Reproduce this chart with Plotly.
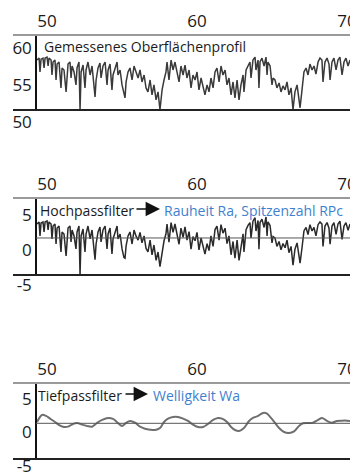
import plotly.graph_objects as go

# ---- data ----
x_profile = [49.33, 49.47, 49.53, 49.6, 49.73, 49.8, 49.87, 50.0, 50.07, 50.13, 50.27, 50.33, 50.4, 50.53, 50.6,
             50.67, 50.8, 50.93, 51.0, 51.13, 51.27, 51.33, 51.4, 51.53, 51.6, 51.67, 51.8, 51.93, 52.0, 52.13,
             52.2, 52.27, 52.4, 52.53, 52.6, 52.73, 52.87, 53.0, 53.13, 53.2, 53.27, 53.4, 53.53, 53.6, 53.73,
             53.87, 54.0, 54.07, 54.2, 54.33, 54.4, 54.53, 54.67, 54.73, 54.87, 55.0, 55.13, 55.2, 55.27, 55.4,
             55.53, 55.67, 55.8, 55.93, 56.07, 56.2, 56.33, 56.47, 56.6, 56.73, 56.87, 57.0, 57.13, 57.27, 57.4,
             57.53, 57.67, 57.8, 57.93, 58.0, 58.13, 58.27, 58.4, 58.53, 58.67, 58.8, 58.93, 59.07, 59.2, 59.33,
             59.47, 59.6, 59.73, 59.87, 60.0, 60.13, 60.27, 60.4, 60.53, 60.67, 60.8, 60.93, 61.07, 61.2, 61.33,
             61.47, 61.6, 61.73, 61.87, 62.0, 62.13, 62.27, 62.4, 62.53, 62.67, 62.8, 62.93, 63.07, 63.13, 63.27,
             63.4, 63.53, 63.6, 63.73, 63.87, 63.93, 64.07, 64.13, 64.2, 64.33, 64.47, 64.6, 64.67, 64.73, 64.87,
             65.0, 65.07, 65.2, 65.33, 65.47, 65.6, 65.73, 65.87, 66.0, 66.13, 66.27, 66.4, 66.53, 66.67, 66.8,
             66.87, 67.0, 67.13, 67.27, 67.4, 67.53, 67.67, 67.8, 67.93, 68.07, 68.2, 68.33, 68.4, 68.53, 68.67,
             68.8, 68.87, 69.0, 69.13, 69.27, 69.4, 69.53, 69.67, 69.8, 69.93, 70.07, 70.2]

measured = [56.76, 57.03, 55.14, 56.89, 57.03, 55.68, 57.03, 57.16, 55.95, 57.03, 56.76, 54.73, 56.49, 56.76, 54.05,
            56.22, 56.49, 52.97, 55.68, 55.41, 52.43, 54.05, 56.22, 56.49, 54.32, 55.95, 55.14, 53.38, 55.68, 56.49,
            50.0, 55.14, 56.08, 52.97, 55.41, 56.49, 54.73, 55.95, 52.70, 51.76, 54.05, 55.68, 56.35, 54.32, 55.95,
            56.49, 53.38, 55.41, 56.22, 52.70, 54.73, 55.68, 56.49, 54.73, 55.41, 53.38, 52.03, 51.62, 53.78, 55.14,
            55.68, 54.05, 55.95, 55.14, 54.32, 55.41, 53.78, 54.73, 52.97, 52.43, 54.05, 52.03, 53.38, 51.35, 52.43,
            50.0, 52.70, 54.05, 55.14, 56.49, 54.05, 56.76, 55.41, 56.49, 55.14, 53.78, 55.95, 54.73, 56.08, 54.32,
            55.41, 52.97, 54.73, 54.05, 55.14, 52.70, 54.32, 52.97, 52.03, 53.38, 52.43, 54.32, 52.97, 55.14, 55.68,
            53.78, 55.95, 54.73, 55.41, 53.38, 54.32, 52.03, 53.78, 51.62, 54.05, 51.35, 53.38, 54.73, 52.43, 55.41,
            56.08, 56.49, 54.32, 56.76, 57.16, 55.41, 56.76, 52.97, 56.49, 57.03, 55.95, 57.16, 54.73, 56.49, 55.95,
            53.38, 54.32, 54.05, 52.97, 53.65, 52.43, 53.24, 52.70, 53.78, 52.03, 52.97, 50.0, 52.43, 53.38, 51.35,
            50.27, 52.70, 55.14, 55.68, 54.73, 56.22, 55.41, 55.95, 54.86, 56.49, 57.03, 56.76, 53.78, 56.49, 57.03,
            56.22, 54.05, 56.49, 57.03, 55.41, 56.76, 57.16, 54.73, 56.49, 57.03, 55.95, 56.76]

highpass = [2.0, 2.29, 0.29, 2.14, 2.29, 0.86, 2.29, 2.43, 1.14, 2.29, 2.0, -0.14, 1.71, 2.0, -0.86,
            1.43, 1.71, -2.0, 0.86, 0.57, -2.57, -0.86, 1.43, 1.71, -0.57, 1.14, 0.29, -1.57, 0.86, 1.71,
            -5.3, 0.29, 1.29, -2.0, 0.57, 1.71, -0.14, 1.14, -2.29, -3.1, -0.86, 0.86, 1.57, -0.57, 1.14,
            1.71, -1.57, 0.57, 1.43, -2.29, -0.14, 0.86, 1.71, -0.14, 0.57, -1.57, -2.8, -2.9, -1.14, 0.29,
            0.86, -0.86, 1.14, 0.29, -0.3, 0.8, -0.7, 0.3, -1.5, -2.0, -0.3, -2.4, -1.0, -3.2, -2.0,
            -4.1, -1.8, -0.4, 0.6, 2.0, -0.6, 2.2, 0.8, 2.0, 0.5, -0.9, 1.4, 0.1, 1.6, -0.3,
            0.9, -1.6, 0.2, -0.4, 0.8, -1.7, 0.0, -1.3, -2.3, -0.8, -1.8, 0.3, -1.2, 1.2, 1.7,
            -0.3, 1.9, 0.7, 1.4, -0.8, 0.3, -2.4, -0.5, -2.9, -0.3, -3.2, -1.0, 0.6, -2.0, 1.2,
            1.8, 2.2, 0.0, 2.4, 2.9, 1.0, 2.5, -1.6, 2.2, 2.7, 1.5, 3.0, 0.3, 2.3, 1.8,
            -0.7, 0.2, 0.0, -1.2, -0.5, -1.7, -0.8, -1.4, -0.3, -2.1, -1.2, -3.9, -1.6, -0.7, -2.8,
            -3.6, -1.4, 1.0, 1.5, 0.5, 1.9, 1.0, 1.5, 0.3, 1.9, 2.3, 2.0, -1.2, 1.7, 2.2,
            1.4, -0.9, 1.7, 2.2, 0.5, 2.0, 2.4, -0.2, 1.7, 2.2, 1.1, 2.0]

x_wave = [49.33, 49.67, 49.93, 50.2, 50.53, 50.87, 51.13, 51.4, 51.73, 52.0, 52.33, 52.67, 53.0, 53.33, 53.67,
          54.07, 54.4, 54.73, 55.0, 55.27, 55.53, 55.87, 56.2, 56.53, 56.87, 57.2, 57.53, 57.8, 58.07, 58.4,
          58.73, 59.07, 59.4, 59.73, 60.07, 60.4, 60.73, 61.07, 61.4, 61.67, 62.0, 62.27, 62.53, 62.8, 63.13,
          63.47, 63.73, 64.07, 64.4, 64.67, 64.93, 65.2, 65.47, 65.8, 66.13, 66.47, 66.8, 67.07, 67.4, 67.73,
          68.07, 68.33, 68.67, 69.0, 69.33, 69.67, 70.0, 70.2]
lowpass = [0.2, 1.25, 1.1, 0.7, 0.2, -0.35, -0.55, -0.5, -0.1, 0.05, -0.2, -0.4, -0.5, 0.05, 0.5,
           0.8, 0.65, 0.05, -0.4, 0.05, 0.35, 0.1, -0.5, -0.8, -0.95, -1.0, -0.7, 0.2, 0.7, 0.95,
           0.95, 0.7, 0.35, -0.2, -0.55, -0.55, -0.1, 0.5, 0.8, 0.7, 0.2, -0.55, -1.0, -1.15, -0.7,
           0.35, 0.8, 1.1, 1.55, 1.45, 0.8, 0.05, -0.7, -1.3, -1.45, -1.2, -0.4, 0.0, 0.05, 0.1,
           0.5, 0.8, 0.35, 0.1, 0.35, 0.4, 0.4, 0.35]

x_ticks = [50, 60, 70]
y1_ticks = [50, 55, 60]
y23_ticks = [-5, 0, 5]
y23_labels = ["-5", "0", "5"]

title1 = "Gemessenes Oberflächenprofil"
filter2, result2 = "Hochpassfilter", "Rauheit Ra, Spitzenzahl RPc"
filter3, result3 = "Tiefpassfilter", "Welligkeit Wa"

# ---- figure ----
FONT = "Open Sans, Noto Sans, sans-serif"
BLUE = "#3f7fcf"
W, H, L = 350, 476, 13
axpos = (36 - L) / (W - L)

def dom(top, bottom):
    return [1 - bottom / H, 1 - top / H]

fig = go.Figure()
fig.add_trace(go.Scatter(x=x_profile, y=measured, mode="lines", xaxis="x", yaxis="y",
                         line=dict(color="#3a3a3a", width=1.5), hoverinfo="skip"))
fig.add_trace(go.Scatter(x=x_profile, y=highpass, mode="lines", xaxis="x2", yaxis="y2",
                         line=dict(color="#2a2a2a", width=1.5), hoverinfo="skip"))
fig.add_trace(go.Scatter(x=x_wave, y=lowpass, mode="lines", xaxis="x3", yaxis="y3",
                         line=dict(color="#6f6f6f", width=2, shape="spline"), hoverinfo="skip"))

xcommon = dict(domain=[0, 1], side="top", range=[47.73, 70.2], tickvals=x_ticks,
               showline=True, linecolor="#9a9a9a", linewidth=1.5, showgrid=False, zeroline=False,
               ticks="", ticklabeloverflow="allow", automargin=False,
               tickfont=dict(family=FONT, size=17, color="#1a1a1a"))
ycommon = dict(anchor="free", position=axpos, showline=True, linecolor="#111111", linewidth=1.5,
               showgrid=False, zeroline=False, ticks="", automargin=False,
               ticklabeloverflow="allow",
               tickfont=dict(family=FONT, size=17, color="#1a1a1a"))

fig.update_layout(
    width=W, height=H, margin=dict(l=L, r=0, t=0, b=0, autoexpand=False),
    paper_bgcolor="white", plot_bgcolor="white", showlegend=False,
    xaxis=dict(anchor="y", **xcommon),
    xaxis2=dict(anchor="y2", **xcommon),
    xaxis3=dict(anchor="y3", **xcommon),
    yaxis=dict(domain=dom(36, 110), range=[49.97, 60.03], tickvals=y1_ticks, ticklabelshift=12, **ycommon),
    yaxis2=dict(domain=dom(199, 275), range=[-5.29, 5.57], tickvals=y23_ticks, ticktext=y23_labels,
                ticklabelshift=12, **ycommon),
    yaxis3=dict(domain=dom(384, 459), range=[-5.33, 5.87], tickvals=y23_ticks, ticktext=y23_labels,
                ticklabelshift=9, **ycommon),
)

shapes = []
for xs, ys in (("x", "y"), ("x2", "y2"), ("x3", "y3")):
    shapes.append(dict(type="line", xref=f"{xs} domain", yref=f"{ys} domain", x0=0, x1=1, y0=0, y1=0,
                       line=dict(color="#222222", width=2)))
for xs, ys in (("x2", "y2"), ("x3", "y3")):
    shapes.append(dict(type="line", xref=f"{xs} domain", yref=ys, x0=axpos, x1=1, y0=0, y1=0,
                       line=dict(color="#555555", width=1), layer="above"))
fig.update_layout(shapes=shapes)

def px_x(p):
    return (p - L) / (W - L)

def px_y(p):
    return 1 - p / H

tf = dict(family=FONT, size=14, color="#1a1a1a")
bf = dict(family=FONT, size=14, color=BLUE)
ann = [
    dict(text=title1, x=px_x(42), y=px_y(47), xref="paper", yref="paper", xanchor="left", yanchor="middle",
         showarrow=False, font=tf),
    dict(text=filter2, x=px_x(38), y=px_y(210), xref="paper", yref="paper", xanchor="left", yanchor="middle",
         showarrow=False, font=tf),
    dict(text=result2, x=px_x(162), y=px_y(210), xref="paper", yref="paper", xanchor="left", yanchor="middle",
         showarrow=False, font=bf),
    dict(text="", x=px_x(160), y=px_y(209), xref="paper", yref="paper", ax=-25, ay=0,
         showarrow=True, arrowhead=2, arrowsize=1.8, arrowwidth=1.6, arrowcolor="#111111"),
    dict(text=filter3, x=px_x(36), y=px_y(395), xref="paper", yref="paper", xanchor="left", yanchor="middle",
         showarrow=False, font=tf),
    dict(text=result3, x=px_x(151), y=px_y(395), xref="paper", yref="paper", xanchor="left", yanchor="middle",
         showarrow=False, font=bf),
    dict(text="", x=px_x(148), y=px_y(394), xref="paper", yref="paper", ax=-24, ay=0,
         showarrow=True, arrowhead=2, arrowsize=1.8, arrowwidth=1.6, arrowcolor="#111111"),
]
fig.update_layout(annotations=ann)

fig.write_html("out.html")
